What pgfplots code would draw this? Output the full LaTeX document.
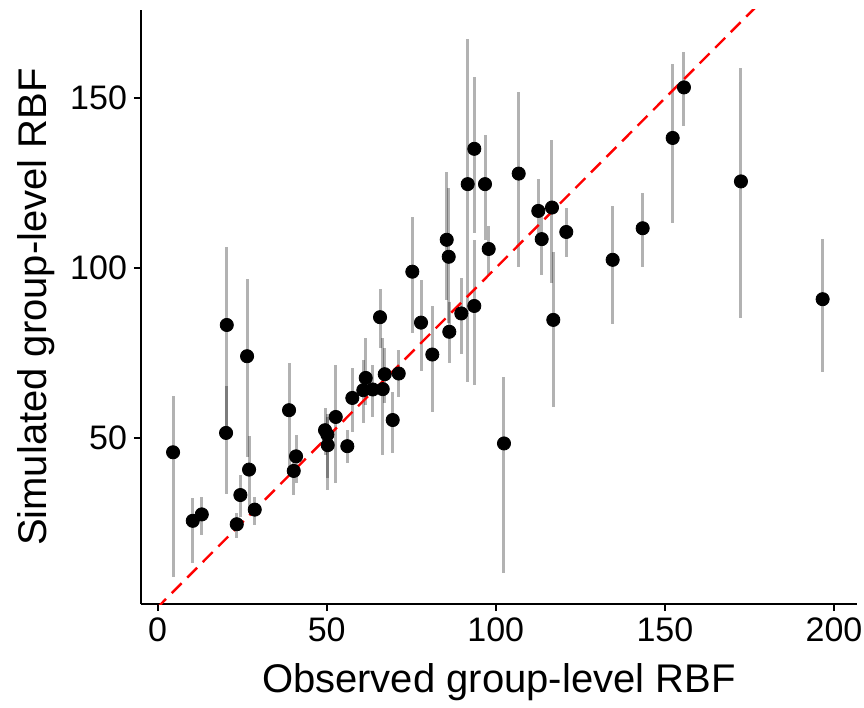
\documentclass[border=0pt]{standalone}
\usepackage{fontspec}
\setmainfont{Liberation Sans}
\usepackage{pgfplots}
\usepackage{pgfplotstable}
\pgfplotsset{compat=1.18}

% observed x, simulated y, interval lo/hi
\pgfplotstableread{
x y lo hi
4.58 45.7 9.1 62.2
10.40 25.5 13.1 32.1
13.07 27.4 21.2 32.4
20.46 83.2 49.8 106.3
20.25 51.4 33.5 65.2
26.46 74.0 44.3 96.7
27.05 40.6 28.6 50.4
24.48 33.1 26.6 38.9
23.41 24.5 20.3 27.9
28.73 28.8 24.2 32.5
38.87 58.1 41.4 72.1
40.94 44.5 36.7 50.7
40.26 40.2 33.0 44.5
49.51 52.2 44.8 58.7
50.19 50.9 38.0 57.0
50.31 47.8 34.5 56.0
52.68 56.1 36.6 71.4
56.10 47.5 42.5 52.2
57.58 61.7 51.7 70.5
60.83 64.0 54.3 72.9
61.54 67.6 59.6 79.4
63.61 64.2 56.1 71.4
66.57 64.3 44.8 79.4
67.16 68.7 60.2 76.4
65.77 85.5 76.4 93.8
69.52 55.2 45.6 63.5
71.30 68.9 62.0 75.8
75.32 98.9 80.7 115.1
77.89 83.9 69.7 96.4
81.23 74.5 57.6 88.9
85.49 108.3 90.6 128.4
86.08 103.3 83.8 123.5
86.25 81.2 71.9 90.1
89.80 86.6 74.8 97.0
91.69 124.7 66.5 167.5
93.64 135.1 110.2 156.4
93.64 88.8 65.5 108.1
96.81 124.7 108.3 139.2
97.90 105.6 97.9 112.4
102.42 48.3 10.1 67.9
106.77 127.8 100.4 151.8
112.56 116.8 108.3 126.2
113.57 108.5 97.9 116.8
116.61 117.8 95.5 137.6
117.00 84.7 58.9 104.8
120.84 110.6 103.3 117.6
134.55 102.4 83.5 118.4
143.42 111.7 100.4 122.2
152.29 138.3 113.2 160.2
155.63 153.2 141.7 163.6
172.48 125.5 85.2 158.9
196.63 90.8 69.4 108.5
}\rbf

\begin{document}
\begin{tikzpicture}
\path[use as bounding box] (-70.5pt,-52pt) rectangle (361.5pt,302pt);
\begin{axis}[
  at={(0,0)}, anchor=south west,
  scale only axis,
  width=357.85pt, height=297pt,
  xmin=-4.9, xmax=206.7,
  ymin=1, ymax=176,
  axis x line*=bottom, axis y line*=left,
  axis line style={line width=1pt, black},
  tick align=outside,
  major tick length=3.5pt,
  tick style={line width=1pt, black},
  xtick={0,50,100,150,200},
  ytick={50,100,150},
  tick label style={font=\fontsize{17}{19}\selectfont},
  /pgf/number format/assume math mode=true,
  label style={font=\fontsize{20}{24}\selectfont},
  xlabel={Observed group-level RBF},
  ylabel={Simulated group-level RBF},
  xlabel style={yshift=-4pt},
  ylabel style={yshift=1pt},
  clip=true,
]
  % intervals
  \addplot[draw=none, mark=none,
    error bars/.cd, y dir=both, y explicit, error mark=none,
    error bar style={line width=1.5pt, black, opacity=0.3}]
    table[x=x, y=y,
      y error plus expr=\thisrow{hi}-\thisrow{y},
      y error minus expr=\thisrow{y}-\thisrow{lo}] {\rbf};
  % identity line
  \addplot[red, line width=1.2pt, dash pattern=on 7pt off 4pt]
    coordinates {(-5,-5)(210,210)};
  % group points
  \addplot[only marks, mark=*, mark size=3.3pt, black,
    mark options={fill=black}] table[x=x, y=y] {\rbf};
\end{axis}
\end{tikzpicture}
\end{document}
